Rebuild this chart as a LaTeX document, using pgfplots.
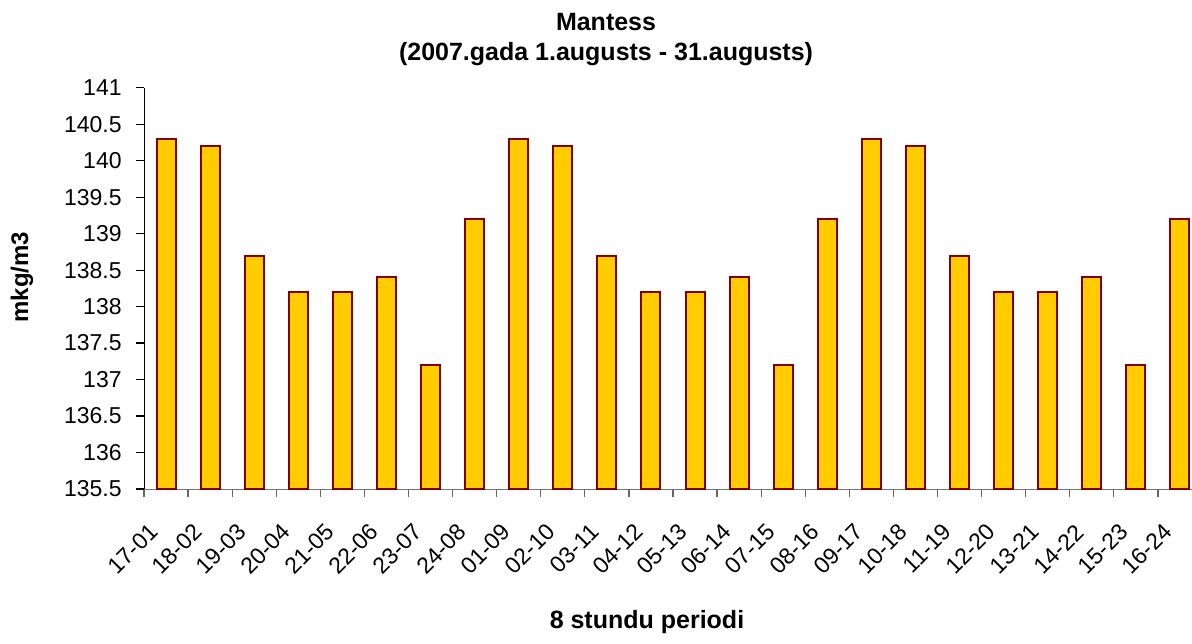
\documentclass[border=0pt]{standalone}
\usepackage{fontspec}
\setmainfont{Liberation Sans}
\usepackage{pgfplots}
\pgfplotsset{compat=1.18}
\definecolor{barfill}{HTML}{FFCC00}
\definecolor{baredge}{HTML}{800000}
\begin{document}
\begin{tikzpicture}
\begin{axis}[
  at={(0,0)}, anchor=south west,
  scale only axis,
  width=529pt, height=200.65pt,
  xmin=-0.5, xmax=23.5,
  ymin=135.5, ymax=141,
  ytick={135.5,136,...,141},
  /pgf/number format/assume math mode=true,
  yticklabel={\pgfmathprintnumber[fixed,precision=1]{\tick}},
  axis lines*=left,
  x axis line style={draw=black!55, -},
  y axis line style={draw=black, -},
  tick align=outside,
  major tick length=4pt,
  minor tick length=4pt,
  xtick={0,...,23},
  xticklabels={17-01,18-02,19-03,20-04,21-05,22-06,23-07,24-08,01-09,02-10,03-11,04-12,05-13,06-14,07-15,08-16,09-17,10-18,11-19,12-20,13-21,14-22,15-23,16-24},
  x tick style={draw=none},
  minor xtick={-0.5,0.5,...,23.5},
  minor x tick style={draw=black!60, line width=0.6pt},
  y tick style={draw=black, line width=0.6pt},
  tick label style={font=\fontsize{11.5}{13}\selectfont},
  xticklabel style={xshift=-6pt, yshift=-15.5pt, rotate=45, anchor=east, inner sep=0pt},
  yticklabel style={anchor=east, inner sep=0pt, xshift=-7pt},
  title={Mantess\\(2007.gada 1.augusts - 31.augusts)},
  every axis title/.style={at={(axis description cs:0.4367,1.119)}, anchor=center, align=center, font=\bfseries\fontsize{12.5}{15}\selectfont},
  xlabel={8 stundu periodi},
  every axis x label/.style={at={(axis description cs:0.4754,-0.3314)}, anchor=center, font=\bfseries\fontsize{12.5}{14}\selectfont},
  ylabel={mkg/m3},
  every axis y label/.style={at={(axis description cs:-0.1153,0.528)}, rotate=90, anchor=center, font=\bfseries\fontsize{12}{14}\selectfont},
  ybar, bar width=9.5pt,
  clip=true,
]
\addplot[fill=barfill, draw=baredge, line width=1pt] coordinates {
(0,140.3) (1,140.2) (2,138.7) (3,138.2) (4,138.2) (5,138.4) (6,137.2) (7,139.2)
(8,140.3) (9,140.2) (10,138.7) (11,138.2) (12,138.2) (13,138.4) (14,137.2) (15,139.2)
(16,140.3) (17,140.2) (18,138.7) (19,138.2) (20,138.2) (21,138.4) (22,137.2) (23,139.2)
};
\end{axis}
\pgfresetboundingbox
\path[use as bounding box] (-72pt,-77pt) rectangle (524pt,244.5pt);
\end{tikzpicture}
\end{document}
